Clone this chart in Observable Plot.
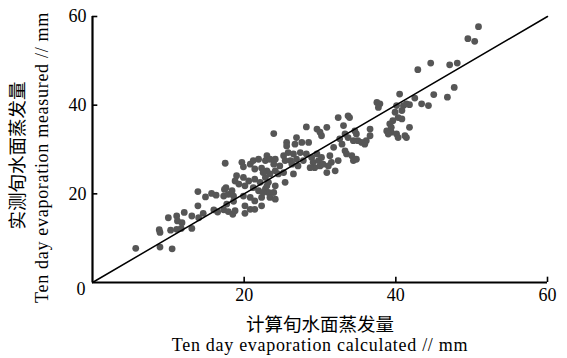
<!DOCTYPE html>
<html><head><meta charset="utf-8">
<script src="https://cdn.jsdelivr.net/npm/d3@7"></script>
<script src="https://cdn.jsdelivr.net/npm/@observablehq/plot@0.6"></script>
<style>body{margin:0;background:#fff;}</style>
</head><body><div id="chart"></div>
<script>
const calculated = [
5.7,8.9,10.5,8.8,8.9,10.3,10.0,11.1,11.2,11.8,12.1,11.1,11.7,13.1,13.1,14.0,14.6,13.9,13.9,14.9,15.7,16.3,16.0,16.5,17.3,17.9,18.5,18.8,20.1,17.6,17.4,17.7,18.6,17.3,17.9,18.6,18.4,
17.5,19.7,19.9,20.8,21.2,21.9,22.8,21.4,22.3,23.0,19.0,18.8,19.3,19.9,20.6,20.1,21.4,22.1,22.8,23.2,21.2,21.9,22.8,23.2,19.9,20.8,21.4,22.3,20.1,20.8,21.4,22.3,23.0,23.4,
23.9,28.2,29.6,30.0,30.2,30.9,32.4,25.6,25.6,26.9,26.7,27.6,28.5,25.8,26.5,27.4,26.1,26.9,26.3,27.1,27.8,28.2,28.9,29.6,29.1,29.8,30.2,29.3,30.0,30.4,28.7,31.3,31.5,31.1,32.4,32.0,30.9,25.2,25.4,24.7,24.1,23.9,22.5,23.4,24.1,24.5,25.2,26.5,25.4,23.0,24.1,22.5,23.9,23.4,24.1,
40.5,37.5,37.9,37.7,40.1,41.0,41.4,41.8,40.8,43.4,44.3,39.9,40.3,39.6,40.8,39.2,39.4,38.8,39.4,39.0,40.1,40.3,41.2,41.4,41.8,33.7,33.9,33.1,34.6,33.3,33.7,34.8,35.0,35.5,36.1,36.6,36.6,35.9,34.4,32.6,32.9,33.3,33.5,31.8,34.2,34.4,34.8,
50.9,49.5,50.4,44.6,42.9,47.1,48.1,47.7,46.8,45.0,42.5
];
const measured = [
7.7,8.0,7.6,11.9,11.3,11.8,14.6,15.0,13.9,13.5,15.8,12.0,12.2,12.2,15.0,14.6,15.6,17.3,20.5,19.3,20.1,19.7,16.4,15.9,16.4,16.0,15.4,16.2,15.6,21.4,21.0,17.7,18.3,19.5,19.9,19.5,20.7,
26.9,27.1,26.1,26.7,27.5,27.8,27.5,25.6,25.8,25.2,24.1,22.9,22.2,23.7,22.9,21.8,23.3,22.6,23.7,22.6,21.4,20.7,21.1,20.3,19.5,19.2,18.4,19.2,17.3,16.5,16.5,17.3,28.6,27.8,
33.6,35.1,34.6,33.9,33.1,35.0,37.2,31.6,30.8,32.7,31.2,31.6,31.6,29.3,29.0,29.3,27.5,27.8,26.7,26.3,27.5,29.0,28.2,29.0,27.1,27.5,28.2,25.9,26.3,26.7,25.9,28.6,27.1,26.3,27.5,25.2,24.8,28.6,27.5,26.3,27.8,26.7,24.8,24.5,25.2,24.5,24.8,24.5,22.6,21.8,21.8,20.3,20.3,19.2,18.8,
42.5,40.6,40.3,39.5,39.9,39.9,40.3,40.1,38.8,40.3,39.9,38.4,37.2,36.5,36.9,35.8,35.0,34.2,33.9,33.5,33.5,32.7,33.1,32.7,35.0,37.6,37.2,35.4,34.2,33.5,32.7,33.5,32.0,31.6,32.0,33.1,34.6,31.2,32.0,32.4,31.2,29.7,29.0,30.5,28.6,27.5,27.8,
57.7,55.0,54.4,49.5,48.0,49.1,49.5,44.0,41.8,42.4,41.6
];
const xTicks = [20, 40, 60];
const yTicks = [20, 40, 60];
const origin = [0];
const diagonal = [0, 60];
const yTitleCn = "实测旬水面蒸发量";
const yTitleEn = "Ten day evaporation measured // mm";
const xTitleCn = "计算旬水面蒸发量";
const xTitleEn = "Ten day evaporation calculated // mm";

const points = calculated.map((x, i) => ({x, y: measured[i]}));
const serif = "'Liberation Serif', 'Times New Roman', serif";
const cjk = "'Noto Sans CJK SC', sans-serif";

const chart = Plot.plot({
  width: 567, height: 358,
  marginLeft: 92, marginRight: 20, marginTop: 16, marginBottom: 76,
  x: {domain: [0, 60]},
  y: {domain: [0, 60]},
  style: {fontFamily: serif, fontSize: "18px", background: "#fff", color: "#000"},
  marks: [
    Plot.dot(points, {x: "x", y: "y", r: 3.4, fill: "#565656", stroke: "none"}),
    Plot.line(diagonal, {x: d => d, y: d => d, stroke: "#000", strokeWidth: 1.5}),
    Plot.ruleX(origin, {stroke: "#000", strokeWidth: 2.2}),
    Plot.ruleY(origin, {stroke: "#000", strokeWidth: 2.2}),
    Plot.ruleX(xTicks, {y1: 0, y2: 1.2, stroke: "#000", strokeWidth: 1.6}),
    Plot.ruleY(yTicks, {x1: 0, x2: 0.7, stroke: "#000", strokeWidth: 1.6}),
    Plot.axisX(xTicks, {tickSize: 0, tickPadding: 6, label: null, fontSize: 18}),
    Plot.axisY(yTicks, {tickSize: 0, tickPadding: 6, label: null, fontSize: 18}),
    Plot.text(origin, {x: 0, y: 0, text: d => String(d), textAnchor: "end", dx: -7, dy: 7, fontSize: 18}),
    Plot.text([yTitleCn], {frameAnchor: "left", textAnchor: "middle", rotate: -90, dx: -74, dy: 6, fontFamily: cjk, fontSize: 18.5}),
    Plot.text([yTitleEn], {frameAnchor: "left", textAnchor: "middle", rotate: -90, dx: -50, dy: 8, fontSize: 18}),
    Plot.text([xTitleCn], {frameAnchor: "bottom", dy: 48, fontFamily: cjk, fontSize: 18.5}),
    Plot.text([xTitleEn], {frameAnchor: "bottom", dy: 68, fontSize: 18})
  ]
});
d3.select(chart).selectAll("text")
  .filter(function() { return this.textContent === xTitleEn || this.textContent === yTitleEn; })
  .style("letter-spacing", "0.7px");
document.getElementById("chart").appendChild(chart);
</script>
</body></html>
